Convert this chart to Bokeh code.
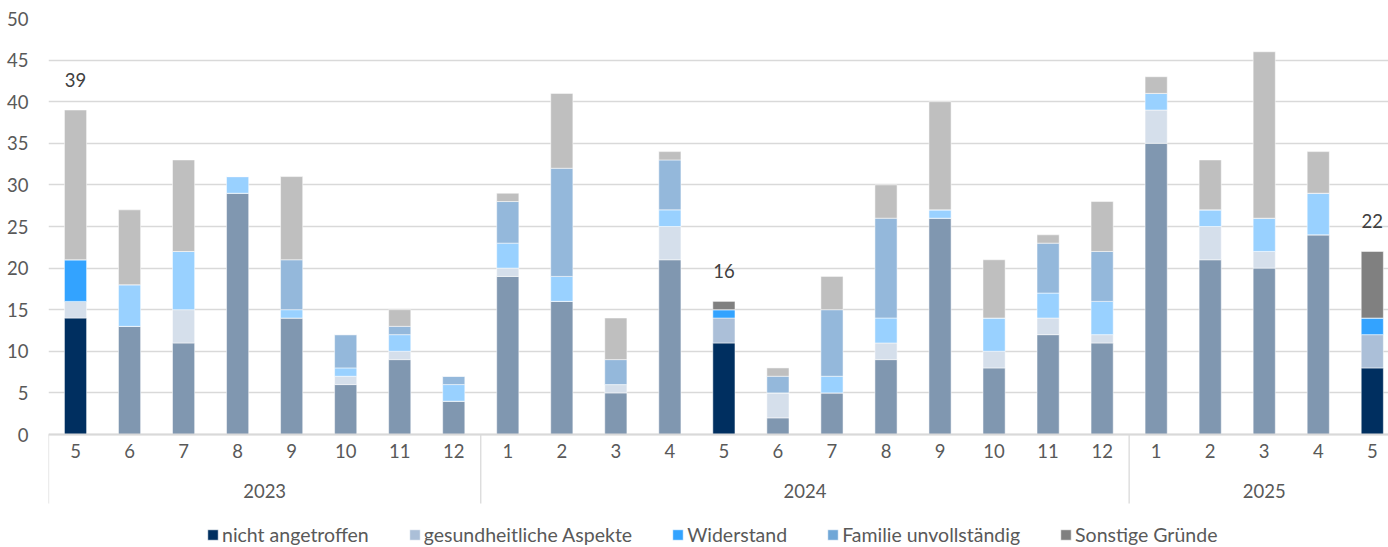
import numpy as np
from bokeh.plotting import figure
from bokeh.models import (ColumnDataSource, Range1d, FixedTicker, Legend,
                          LegendItem, Span)
from bokeh.core.properties import value
from bokeh.embed import file_html
from bokeh.resources import INLINE

# ---------------- data ----------------
months = [5, 6, 7, 8, 9, 10, 11, 12,
          1, 2, 3, 4, 5, 6, 7, 8, 9, 10, 11, 12,
          1, 2, 3, 4, 5]
years = ["2023", "2024", "2025"]
months_per_year = [8, 12, 5]

series_names = ["nicht angetroffen", "gesundheitliche Aspekte", "Widerstand",
                "Familie unvollständig", "Sonstige Gründe"]

nicht_angetroffen = [14, 13, 11, 29, 14, 6, 9, 4,
                     19, 16, 5, 21, 11, 2, 5, 9, 26, 8, 12, 11,
                     35, 21, 20, 24, 8]
gesundheitliche = [2, 0, 4, 0, 0, 1, 1, 0,
                   1, 0, 1, 4, 3, 3, 0, 2, 0, 2, 2, 1,
                   4, 4, 2, 0, 4]
widerstand = [5, 5, 7, 2, 1, 1, 2, 2,
              3, 3, 0, 2, 1, 0, 2, 3, 1, 4, 3, 4,
              2, 2, 4, 5, 2]
familie = [0, 0, 0, 0, 6, 4, 1, 1,
           5, 13, 3, 6, 0, 2, 8, 12, 0, 0, 6, 6,
           0, 0, 0, 0, 0]
sonstige = [18, 9, 11, 0, 10, 0, 2, 0,
            1, 9, 5, 1, 1, 1, 4, 4, 13, 7, 1, 6,
            2, 6, 20, 5, 8]

y_ticks = [0, 5, 10, 15, 20, 25, 30, 35, 40, 45, 50]

# months shown in full colour (May); cells of those bars drawn pale anyway
highlight_month = 5
pale_cells = [(0, 1), (0, 4)]   # (bar index, series index)

# ---------------- styles ----------------
full_colors = ["#002F60", "#ABBFD8", "#33A3FF", "#70A7D7", "#808080"]
faded_colors = ["#8097B0", "#D5DFEB", "#99D1FF", "#94B8DB", "#BFBFBF"]
FONT = "Lato"
FS = "18.5px"
TICK_COLOR = "#595959"
GRID_COLOR = "#D9D9D9"
PX_PER_UNIT = 8.32          # vertical scale of the value axis
FRAME_H = 547 - 18          # frame spans down to the page bottom

# ---------------- derived table ----------------
series = [nicht_angetroffen, gesundheitliche, widerstand, familie, sonstige]
arr = np.array(series, dtype=float)
tops = np.cumsum(arr, axis=0)
bottoms = tops - arr
n = len(months)
x = np.arange(n)
highlight = [m == highlight_month for m in months]
totals = tops[-1]

data = dict(x=x)
for i in range(len(series)):
    data[f"b{i}"] = bottoms[i]
    data[f"t{i}"] = tops[i]
    data[f"c{i}"] = [full_colors[i] if (h and (j, i) not in pale_cells)
                     else faded_colors[i] for j, h in enumerate(highlight)]
src = ColumnDataSource(data)

hl_idx = [i for i, h in enumerate(highlight) if h]
legend_index = [j for j in hl_idx if not any(c[0] == j for c in pale_cells)][0]
lab_src = ColumnDataSource(dict(x=hl_idx,
                                y=[totals[i] for i in hl_idx],
                                t=[str(int(totals[i])) for i in hl_idx]))

month_src = ColumnDataSource(dict(x=x, y=np.zeros(n), t=[str(m) for m in months]))

bounds = np.concatenate([[0], np.cumsum(months_per_year)]) - 0.5
separators = [float(b) for b in bounds[:-1]]
year_centers = [float(c) for c in (bounds[:-1] + bounds[1:]) / 2]
year_src = ColumnDataSource(dict(x=year_centers, y=[0] * len(years), t=years))
sep_src = ColumnDataSource(dict(x=separators, y=[0] * len(separators)))

y_top = max(y_ticks)
y_bottom = y_top - FRAME_H / PX_PER_UNIT

# ---------------- figure ----------------
p = figure(width=1388, height=547,
           x_range=Range1d(-0.5, 24.3), y_range=Range1d(y_bottom, y_top),
           x_axis_location=None,
           output_backend="svg", toolbar_location=None,
           min_border_left=48, min_border_right=0,
           min_border_top=18, min_border_bottom=0)
p.outline_line_color = None
p.xgrid.visible = False

p.yaxis.ticker = FixedTicker(ticks=y_ticks)
p.yaxis.axis_line_color = None
p.yaxis.major_tick_line_color = None
p.yaxis.minor_tick_line_color = None
p.yaxis.major_label_standoff = 14
p.yaxis.major_label_text_font = FONT
p.yaxis.major_label_text_font_size = FS
p.yaxis.major_label_text_color = TICK_COLOR
p.ygrid.grid_line_color = GRID_COLOR
p.ygrid.grid_line_width = 1.3

# baseline of the category axis
p.add_layout(Span(location=0, dimension="width", line_color=GRID_COLOR,
                  line_width=1.8))

items = []
for i, name in enumerate(series_names):
    r = p.vbar(x="x", bottom=f"b{i}", top=f"t{i}", width=0.41, source=src,
               fill_color=f"c{i}", line_color="white", line_alpha=0.5,
               line_width=1)
    items.append(LegendItem(label=name, renderers=[r], index=legend_index))

# value labels of the highlighted bars
p.text(x="x", y="y", text="t", source=lab_src, text_align="center",
       text_baseline="middle", y_offset=-30, text_font=value(FONT),
       text_font_size=FS, text_color="#404040")

# category axis: month labels, year labels and year separators
p.text(x="x", y="y", text="t", source=month_src, text_align="center",
       text_baseline="middle", y_offset=16, text_font=value(FONT),
       text_font_size=FS, text_color=TICK_COLOR)
p.text(x="x", y="y", text="t", source=year_src, text_align="center",
       text_baseline="middle", y_offset=56, text_font=value(FONT),
       text_font_size=FS, text_color=TICK_COLOR)
p.ray(x="x", y="y", source=sep_src, length=69, length_units="screen",
      angle=-np.pi / 2, line_color=GRID_COLOR, line_width=1.3)

legend = Legend(items=items, orientation="horizontal", location=(158, 1),
                spacing=39, glyph_width=13, glyph_height=13, label_standoff=3,
                label_height=20, padding=0, margin=0, border_line_color=None,
                background_fill_alpha=0, label_text_font=FONT,
                label_text_font_size="19.5px", label_text_color=TICK_COLOR,
                label_text_baseline="middle")
p.add_layout(legend, "center")

open("out.html", "w").write(file_html(p, INLINE))
